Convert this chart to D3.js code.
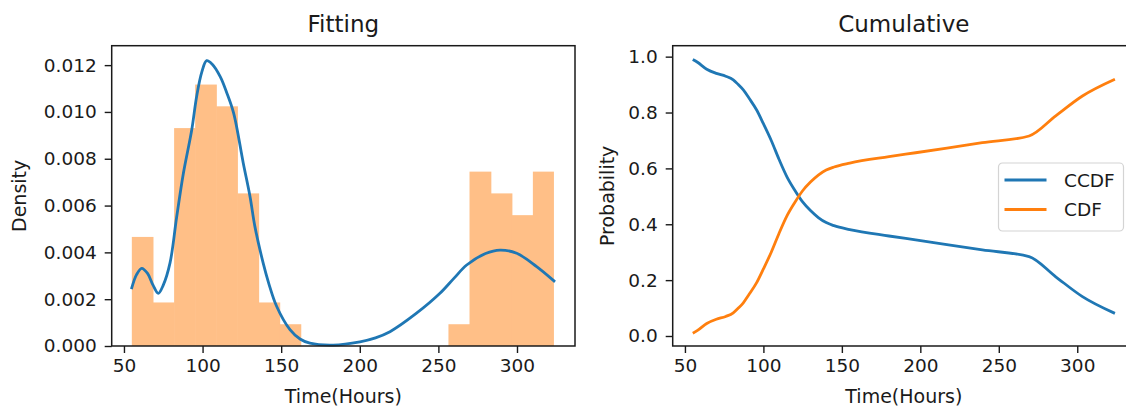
<!DOCTYPE html>
<html>
<head>
<meta charset="utf-8">
<script src="https://cdn.jsdelivr.net/npm/d3@7"></script>
<style>
  body { margin: 0; background: #fff; }
  svg { display: block; }
  text { font-family: "DejaVu Sans", sans-serif; fill: #1a1a1a; }
</style>
</head>
<body>
<svg id="chart" width="1126" height="409"></svg>
<script>
// Histogram of failure times (density-normalised)
const binEdges = [55.0, 68.4, 81.9, 95.3, 108.7, 122.1, 135.6, 149.0, 162.4, 175.8, 189.3,
                  202.7, 216.1, 229.6, 243.0, 256.4, 269.8, 283.3, 296.7, 310.1, 323.5];
const binDensity = [0.00466, 0.00186, 0.00931, 0.01117, 0.01024, 0.00652, 0.00186, 0.00093,
                    0, 0, 0, 0, 0, 0, 0, 0.00093, 0.00745, 0.00652, 0.00559, 0.00745];

// Kernel density estimate
const kdeHours   = [55, 58, 61.3, 65, 68.5, 71.8, 75, 79.3, 83.5, 87.8, 93.1, 96.2, 99.5, 102.6,
                    106, 111.3, 115.5, 119.8, 125.9, 130.2, 133.3, 138.6, 142, 147.1, 155.6, 162,
                    168.3, 183.1, 200.1, 210, 219.2, 236.1, 251, 260, 268, 280, 289.2, 299.8, 312.5, 323.5];
const kdeDensity = [0.00249, 0.00305, 0.00332, 0.0031, 0.0026, 0.00225, 0.0026, 0.00355, 0.0055, 0.00738,
                    0.00923, 0.01065, 0.0117, 0.01219, 0.01205, 0.0115, 0.0108, 0.00994, 0.00781, 0.00638,
                    0.0051, 0.00353, 0.0027, 0.0017, 0.0007, 0.0003, 0.00012, 0.00004, 0.00018, 0.00035,
                    0.00061, 0.0014, 0.00225, 0.0029, 0.00346, 0.00395, 0.0041, 0.00396, 0.00339, 0.00278];

// Cumulative curves
const cumHours   = [55, 58, 63.9, 70, 76, 80.8, 84, 87.2, 91, 95.7, 100, 105, 110, 115, 120, 125,
                    130, 135, 140, 145, 155, 180, 197, 239.5, 269.3, 286.3, 303.3, 324];
const ccdfValues = [0.99, 0.98, 0.955, 0.94, 0.93, 0.917, 0.90, 0.881, 0.85, 0.809, 0.76, 0.70,
                    0.632, 0.57, 0.522, 0.48, 0.449, 0.424, 0.406, 0.395, 0.381, 0.358, 0.344,
                    0.308, 0.284, 0.212, 0.141, 0.081];
const cdfValues  = [0.01, 0.02, 0.045, 0.06, 0.07, 0.083, 0.10, 0.119, 0.15, 0.191, 0.24, 0.30,
                    0.368, 0.43, 0.478, 0.52, 0.551, 0.576, 0.594, 0.605, 0.619, 0.642, 0.656,
                    0.692, 0.716, 0.788, 0.859, 0.919];

const xTicks = [50, 100, 150, 200, 250, 300];
const densityTicks = [0, 0.002, 0.004, 0.006, 0.008, 0.010, 0.012];
const probTicks = [0, 0.2, 0.4, 0.6, 0.8, 1.0];
const seriesNames = ["CCDF", "CDF"];

const BLUE = "#1f77b4", ORANGE = "#ff7f0e", HIST = "#ffbf87";
const svg = d3.select("#chart");
const TICK_FONT = "18.5px";

function drawAxes(g, x, y, w, h, yTicks, yFmt) {
  const xa = g.append("g").attr("transform", `translate(0,${h})`)
    .call(d3.axisBottom(x).tickValues(xTicks).tickSize(7).tickPadding(6).tickFormat(d3.format("d")));
  const ya = g.append("g")
    .call(d3.axisLeft(y).tickValues(yTicks).tickSize(7).tickPadding(8).tickFormat(d3.format(yFmt)));
  [xa, ya].forEach(a => {
    a.select(".domain").remove();
    a.selectAll("line").attr("stroke", "#1a1a1a").attr("stroke-width", 1.4);
    a.selectAll("text").style("font-size", TICK_FONT).attr("fill", "#1a1a1a");
  });
  g.append("rect").attr("width", w).attr("height", h)
    .attr("fill", "none").attr("stroke", "#1a1a1a").attr("stroke-width", 1.5);
}

// ---------- Left panel: Fitting ----------
{
  const left = 111.7, top = 45.7, w = 575 - 111.7, h = 346 - 45.7;
  const g = svg.append("g").attr("transform", `translate(${left},${top})`);
  const x = d3.scaleLinear().domain([42.2, 336.9]).range([0, w]);
  const y = d3.scaleLinear().domain([0, 0.01283]).range([h, 0]);

  g.selectAll("rect.bar").data(binDensity).join("rect")
    .attr("class", "bar")
    .attr("x", (d, i) => x(binEdges[i]))
    .attr("width", (d, i) => x(binEdges[i + 1]) - x(binEdges[i]) + (i < binDensity.length - 1 ? 0.6 : 0))
    .attr("y", d => y(d))
    .attr("height", d => y(0) - y(d))
    .attr("fill", HIST);

  const line = d3.line().x(d => x(d[0])).y(d => y(d[1])).curve(d3.curveCatmullRom.alpha(0.5));
  g.append("path").datum(kdeHours.map((t, i) => [t, kdeDensity[i]]))
    .attr("d", line).attr("fill", "none").attr("stroke", BLUE).attr("stroke-width", 2.8)
    .attr("stroke-linejoin", "round").attr("stroke-linecap", "square");

  drawAxes(g, x, y, w, h, densityTicks, ".3f");

  g.append("text").attr("x", w / 2).attr("y", 32 - top).attr("text-anchor", "middle")
    .style("font-size", "23px").text("Fitting");
  g.append("text").attr("x", w / 2).attr("y", 403 - top).attr("text-anchor", "middle")
    .style("font-size", "19px").text("Time(Hours)");
  g.append("text").attr("transform", `translate(${26 - left},${h / 2}) rotate(-90)`)
    .attr("text-anchor", "middle").style("font-size", "19px").text("Density");
}

// ---------- Right panel: Cumulative ----------
{
  const left = 672.7, top = 45.7, w = 1135 - 672.7, h = 346 - 45.7;
  const g = svg.append("g").attr("transform", `translate(${left},${top})`);
  const x = d3.scaleLinear().domain([42.2, 336.8]).range([0, w]);
  const y = d3.scaleLinear().domain([-0.0358, 1.0392]).range([h, 0]);

  const line = d3.line().x(d => x(d[0])).y(d => y(d[1])).curve(d3.curveMonotoneX);
  [ccdfValues, cdfValues].forEach((vals, k) => {
    g.append("path").datum(cumHours.map((t, i) => [t, vals[i]]))
      .attr("d", line).attr("fill", "none").attr("stroke", k === 0 ? BLUE : ORANGE)
      .attr("stroke-width", 2.8).attr("stroke-linejoin", "round");
  });

  drawAxes(g, x, y, w, h, probTicks, ".1f");

  g.append("text").attr("x", w / 2).attr("y", 32 - top).attr("text-anchor", "middle")
    .style("font-size", "23px").text("Cumulative");
  g.append("text").attr("x", w / 2).attr("y", 403 - top).attr("text-anchor", "middle")
    .style("font-size", "19px").text("Time(Hours)");
  g.append("text").attr("transform", `translate(${614 - left},${h / 2}) rotate(-90)`)
    .attr("text-anchor", "middle").style("font-size", "19px").text("Probability");

  // Legend
  const lg = svg.append("g").attr("transform", "translate(998.5,163)");
  lg.append("rect").attr("width", 125).attr("height", 68).attr("rx", 4)
    .attr("fill", "#fff").attr("fill-opacity", 0.8).attr("stroke", "#d4d4d4").attr("stroke-width", 1.2);
  seriesNames.forEach((name, i) => {
    const cy = 17 + i * 29.5;
    lg.append("line").attr("x1", 6).attr("x2", 48).attr("y1", cy).attr("y2", cy)
      .attr("stroke", i === 0 ? BLUE : ORANGE).attr("stroke-width", 2.8);
    lg.append("text").attr("x", 65.5).attr("y", cy).attr("dy", "0.36em")
      .style("font-size", "18.5px").text(name);
  });
}
</script>
</body>
</html>
